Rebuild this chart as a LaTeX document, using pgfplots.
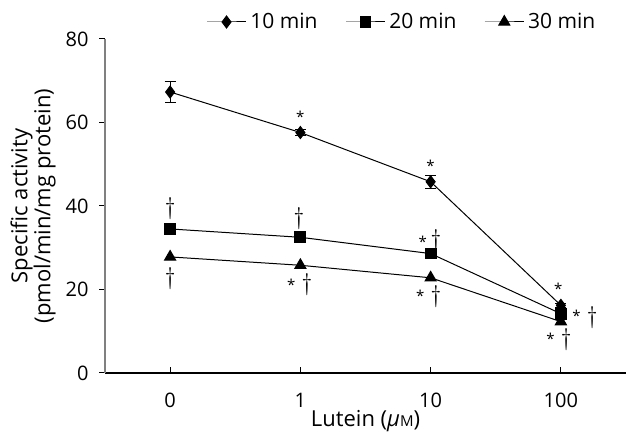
\documentclass[border=0pt]{standalone}
\usepackage{pgfplots}
\pgfplotsset{compat=1.18}
\usepackage{fontspec}
\setmainfont{Open Sans}
\usetikzlibrary{calc}
\newcommand{\dg}{{\fontsize{12}{12}\selectfont$\dagger$}}
\newcommand{\st}{{\fontsize{7.5}{7.5}\selectfont *}}
\begin{document}
\begin{tikzpicture}
\begin{axis}[
  name=ax,
  scale only axis, width=260.5pt, height=167pt,
  xmin=-0.5, xmax=3.5, ymin=0, ymax=80,
  axis lines=left,
  axis line style={-, line width=0.6pt},
  y axis line style={gray},
  xtick={0,1,2,3}, xticklabels={0,1,10,100},
  ytick={0,20,40,60,80},
  tick align=inside, major tick length=3pt,
  tick style={black, line width=0.5pt},
  ytick style={xshift=-3pt},
  yticklabel style={anchor=east, inner sep=0pt, xshift=-8pt},
  xticklabel style={anchor=center, inner sep=0pt, yshift=-13.5pt},
  font=\fontsize{10}{12}\selectfont,
  /pgf/number format/assume math mode=true,
  xlabel={Lutein (\textit{μ}{\fontsize{7.5}{7.5}\selectfont M})},
  xlabel style={at={(rel axis cs:0.5,0)}, anchor=center, inner sep=0pt, yshift=-24pt,
    font=\fontsize{11}{12}\selectfont},
  ylabel={Specific activity\\(pmol/min/mg protein)},
  ylabel style={at={(rel axis cs:0,0.5)}, anchor=center, inner sep=0pt, align=center, yshift=36pt,
    font=\fontsize{11}{11.5}\selectfont},
  legend columns=3,
  legend style={draw=none, fill=none, at={(0.572,1)}, anchor=center, yshift=8.5pt,
    font=\fontsize{10.5}{12}\selectfont,
    /tikz/every even column/.append style={column sep=12pt}},
  legend image code/.code={\draw[mark repeat=2,mark phase=2] plot coordinates {(0cm,0cm)(0.34cm,0cm)(0.68cm,0cm)};},
]
\addplot[black, line width=0.5pt, mark=diamond*, mark size=3pt,
  error bars/.cd, y dir=both, y explicit, error mark options={rotate=90, mark size=2.8pt, line width=0.5pt}, error bar style={line width=0.5pt}]
  coordinates {(0,67.3) +- (0,2.6) (1,57.6) +- (0,0.8) (2,45.8) +- (0,1.5) (3,16.2) +- (0,0.5)};
\addlegendentry{10 min}
\addplot[black, line width=0.5pt, mark=square*, mark size=2.7pt]
  coordinates {(0,34.5) (1,32.5) (2,28.6) (3,14.2)};
\addlegendentry{20 min}
\addplot[black, line width=0.5pt, mark=triangle*, mark size=3.2pt]
  coordinates {(0,27.8) (1,25.8) (2,22.8) (3,12.3)};
\addlegendentry{30 min}
% significance stars
\addplot[forget plot, draw=none, mark=none, nodes near coords, point meta=explicit symbolic,
  every node near coord/.style={anchor=center, inner sep=0pt}]
  coordinates {(1,61.4)[\st] (2,49.6)[\st] (2.98,20.2)[\st] (1.94,31.5)[\st] (0.93,21.2)[\st] (1.92,18.5)[\st] (3.12,13.8)[\st] (2.92,8.3)[\st]};
% daggers
\addplot[forget plot, draw=none, mark=none, nodes near coords, point meta=explicit symbolic,
  every node near coord/.style={anchor=center, inner sep=0pt}]
  coordinates {(0,39.5)[\dg] (0.99,37.1)[\dg] (2.04,31.8)[\dg] (0,22.7)[\dg] (1.05,21.1)[\dg] (2.04,18.2)[\dg] (3.24,13.2)[\dg] (3.04,7.9)[\dg]};
\end{axis}
\pgfresetboundingbox
\path[use as bounding box] ($(ax.south west)+(-52.5pt,-32.5pt)$) rectangle ($(ax.north east)+(0pt,19.5pt)$);
\end{tikzpicture}
\end{document}
